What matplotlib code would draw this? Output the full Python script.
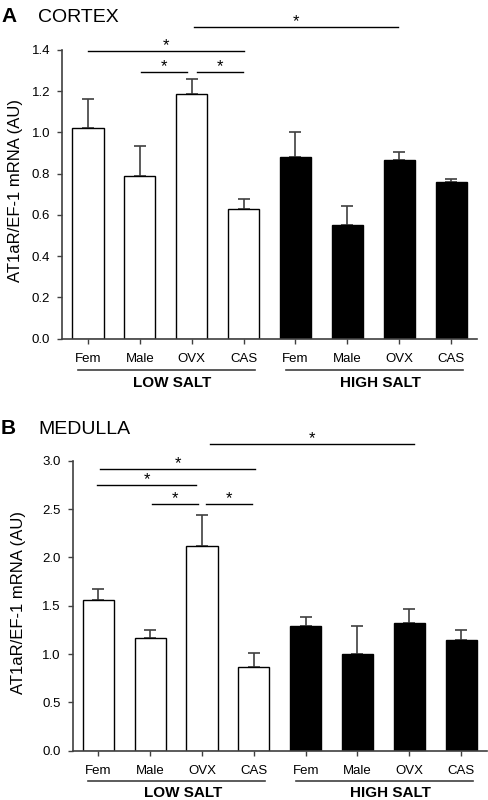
import matplotlib
matplotlib.use("Agg")
import matplotlib.pyplot as plt
from matplotlib.transforms import blended_transform_factory
import numpy as np

plt.rcParams['font.family'] = ['Liberation Sans', 'DejaVu Sans']

categories = ["Fem", "Male", "OVX", "CAS", "Fem", "Male", "OVX", "CAS"]
groups = ["LOW SALT", "HIGH SALT"]

cortex_mean = [1.02, 0.79, 1.185, 0.628, 0.88, 0.55, 0.866, 0.76]
cortex_err = [0.14, 0.145, 0.072, 0.05, 0.12, 0.094, 0.037, 0.016]

medulla_mean = [1.56, 1.17, 2.115, 0.865, 1.293, 0.997, 1.32, 1.148]
medulla_err = [0.11, 0.08, 0.32, 0.143, 0.09, 0.293, 0.142, 0.101]

# significance brackets: (x0, x1, y)
cortex_sig = [(0.0, 3.0, 1.397), (1.02, 1.91, 1.293), (2.1, 2.99, 1.293), (2.04, 5.97, 1.513)]
medulla_sig = [(0.04, 3.03, 2.917), (-0.03, 1.89, 2.752), (1.03, 1.92, 2.552),
               (2.085, 2.96, 2.552), (2.16, 6.09, 3.17)]

W, H = 488, 800
fig = plt.figure(figsize=(W / 100, H / 100), dpi=100)

def px_axes(left, right, top, bottom):
    return [left / W, 1 - bottom / H, (right - left) / W, (bottom - top) / H]

ax1 = fig.add_axes(px_axes(62, 477, 50, 338.7))
ax2 = fig.add_axes(px_axes(72.5, 487, 460.7, 750.7))

spine_c = '#404040'

def draw(ax, means, errs, ymax, ystep, sig, ul_y, lab_y):
    x = np.arange(len(means))
    colors = ['white'] * 4 + ['black'] * 4
    ax.bar(x, means, width=0.6, color=colors, edgecolor='black', linewidth=1.0, zorder=2)
    lower = np.zeros(len(errs))
    ax.errorbar(x, means, yerr=[lower, errs], fmt='none', ecolor=spine_c,
                elinewidth=1.2, capsize=4, capthick=1.2, zorder=1)
    ax.set_xlim(-0.5, 7.5)
    ax.set_ylim(0, ymax)
    ax.set_yticks(np.arange(0, ymax + 1e-9, ystep))
    ax.set_yticklabels([f"{v:.1f}" for v in np.arange(0, ymax + 1e-9, ystep)])
    ax.set_xticks(x)
    ax.set_xticklabels(categories)
    for s in ['top', 'right']:
        ax.spines[s].set_visible(False)
    for s in ['left', 'bottom']:
        ax.spines[s].set_color(spine_c)
        ax.spines[s].set_linewidth(1.2)
    ax.tick_params(axis='both', direction='out', length=3.5, width=1.0, color=spine_c,
                   labelsize=9.5, labelcolor='black')
    ax.tick_params(axis='x', pad=7)
    ax.tick_params(axis='y', pad=5)
    for (x0, x1, y) in sig:
        ax.plot([x0, x1], [y, y], color='black', lw=1.0, clip_on=False, zorder=3)
        ax.annotate('*', xy=((x0 + x1) / 2, y), xytext=(0, 0.5), textcoords='offset points',
                    ha='center', va='baseline', fontsize=12, annotation_clip=False)
    tr = blended_transform_factory(ax.transData, ax.transAxes)
    for (a, b), g, cx in zip([(-0.2, 3.22), (3.81, 7.23)], groups, [1.63, 5.63]):
        ax.plot([a, b], [ul_y, ul_y], transform=tr, color=spine_c, lw=1.2, clip_on=False)
        ax.text(cx, lab_y, g, transform=tr, ha='center', va='center',
                fontsize=11, fontweight='bold')

draw(ax1, cortex_mean, cortex_err, 1.4, 0.2, cortex_sig, -0.1074, -0.1524)
draw(ax2, medulla_mean, medulla_err, 3.0, 0.5, medulla_sig, -0.1034, -0.1459)

ylab = "AT1aR/EF-1 mRNA (AU)"
fig.text(16 / W, 1 - 190 / H, ylab, rotation=90, ha='center', va='center', fontsize=12)
fig.text(19 / W, 1 - 603 / H, ylab, rotation=90, ha='center', va='center', fontsize=12)

fig.text(1 / W, 1 - 21.5 / H, "A", fontsize=15, fontweight='bold', va='baseline', ha='left')
fig.text(38 / W, 1 - 21.5 / H, "CORTEX", fontsize=14, va='baseline', ha='left')
fig.text(1 / W, 1 - 434.5 / H, "B", fontsize=15, fontweight='bold', va='baseline', ha='left')
fig.text(38 / W, 1 - 434.5 / H, "MEDULLA", fontsize=14, va='baseline', ha='left')

fig.savefig("out.png", dpi=100)
